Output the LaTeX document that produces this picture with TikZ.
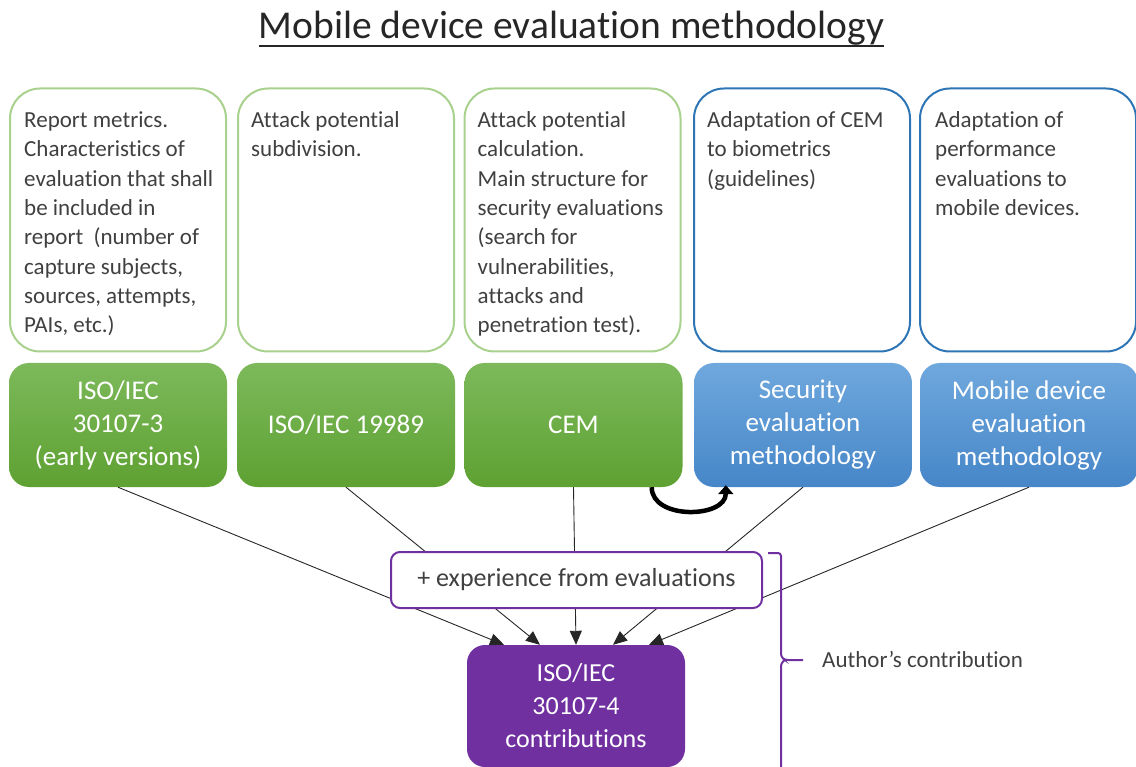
\documentclass[tikz,border=0pt]{standalone}
\usepackage{fontspec}
\setmainfont{Carlito}[Ligatures={NoCommon,NoRare},Contextuals=NoAlternate]
\usetikzlibrary{arrows.meta}

\definecolor{lgreen}{HTML}{A9D18E}
\definecolor{dblue}{HTML}{2E75B6}
\definecolor{gtop}{HTML}{7DB95B}
\definecolor{gbot}{HTML}{5EA132}
\definecolor{btop}{HTML}{6FA8DD}
\definecolor{bbot}{HTML}{4686C8}
\definecolor{purp}{HTML}{7030A0}
\definecolor{txtgray}{HTML}{404040}

% keep the double t apart
\newcommand{\tsep}{t\kern0pt t}

\begin{document}
\begin{tikzpicture}[x=1pt,y=-1pt,
  outline/.style={line width=2pt, rounded corners=30pt, minimum width=216pt,
    minimum height=263pt, inner sep=0pt, fill=white},
  outg/.style={outline, draw=lgreen},
  outb/.style={outline, draw=dblue},
  desc/.style={anchor=north west, inner sep=0pt, align=left, text=txtgray,
    font=\fontsize{23}{29.3}\selectfont},
  solid box/.style={rounded corners=20pt, minimum width=218pt, minimum height=124pt,
    inner sep=0pt, align=center, text=white, font=\fontsize{27}{33}\selectfont},
  gbox/.style={solid box, top color=gtop, bottom color=gbot},
  bbox/.style={solid box, top color=btop, bottom color=bbot},
  conn/.style={draw=black!85, line width=0.9pt, -{Triangle[length=14pt,width=12pt]}},
  loop arrow/.style={line width=4.5pt, -{Triangle[length=9pt,width=15pt]}},
  brk/.style={draw=purp, line width=2pt, rounded corners=3pt}
]
\useasboundingbox (0,0) rectangle (1136,767);

% title
\node[anchor=base, inner sep=0pt, text=black!85, font=\fontsize{39.5}{44}\selectfont]
  (title) at (571.5,39) {Mobile device evaluation methodology};
\draw[black!85, line width=1.8pt] ([yshift=-7pt]title.base west) -- ([yshift=-7pt]title.base east);

% description boxes
\node[outg] (o1) at (118,220) {};
\node[outg] (o2) at (346,220) {};
\node[outg] (o3) at (572.5,220) {};
\node[outb] (o4) at (802,220) {};
\node[outb] (o5) at (1028,220) {};

\node[desc] (t1) at ([xshift=15pt,yshift=-24pt]o1.north west)
  {Report metrics.\\Characteristics of\\evaluation that shall\\be included in\\report\ \ (number of\\capture subjects,\\sources, a\tsep empts,\\PAIs, etc.)};
\node[desc] (t2) at ([xshift=14pt,yshift=-24pt]o2.north west)
  {A\tsep ack potential\\subdivision.};
\node[desc] (t3) at ([xshift=14pt,yshift=-24pt]o3.north west)
  {A\tsep ack potential\\calculation.\\Main structure for\\security evaluations\\(search for\\vulnerabilities,\\a\tsep acks and\\penetration test).};
\node[desc] (t4) at ([xshift=14pt,yshift=-24pt]o4.north west)
  {Adaptation of CEM\\to biometrics\\(guidelines)};
\node[desc] (t5) at ([xshift=16pt,yshift=-24pt]o5.north west)
  {Adaptation of\\performance\\evaluations to\\mobile devices.};

% standards and methodologies
\node[gbox] (g1) at (118,425) {ISO/IEC\\30107-3\\(early versions)};
\node[gbox] (g2) at (346,425) {ISO/IEC 19989};
\node[gbox] (g3) at (573.5,425) {CEM};
\node[bbox] (b4) at (803,425) {Security\\evaluation\\methodology};
\node[bbox] (b5) at (1029,425) {Mobile device\\evaluation\\methodology};

% resulting contribution
\node[rounded corners=18pt, minimum width=218pt, minimum height=122pt, inner sep=0pt,
  fill=purp, align=center, text=white, font=\fontsize{26}{33}\selectfont]
  (iso4) at (576,706) {ISO/IEC\\30107-4\\contributions};

% inputs into the contribution
\foreach \s/\o in {g1/-72, g2/-36, g3/0, b4/37, b5/73}
  \draw[conn] (\s.south) -- ([xshift=\o pt]iso4.north);

% experience box sits over the inputs
\node[draw=purp, line width=2pt, fill=white, rounded corners=9pt, minimum width=371pt,
  minimum height=56pt, inner sep=0pt, text=txtgray, font=\fontsize{26}{30}\selectfont]
  (exp) at (576.5,580) {+ experience from evaluations};

% CEM adapted into the security methodology
\coordinate (ls) at ([xshift=-31pt]g3.south east);
\coordinate (le) at ([xshift=32pt,yshift=2pt]b4.south west);
\draw[loop arrow] (ls) .. controls ([yshift=-33pt]ls) and ([yshift=-33pt]le) .. (le);

% bracket marking the author's part
\draw[brk] (768,553) -- (781,553) -- (781,657) -- (785,660) -- (803,660);
\draw[brk] (785,660) -- (781,663) -- (781,772);
\node[anchor=west, inner sep=0pt, text=txtgray, font=\fontsize{23}{28}\selectfont]
  (auth) at (822,659) {Author’s contribution};
\end{tikzpicture}
\end{document}
